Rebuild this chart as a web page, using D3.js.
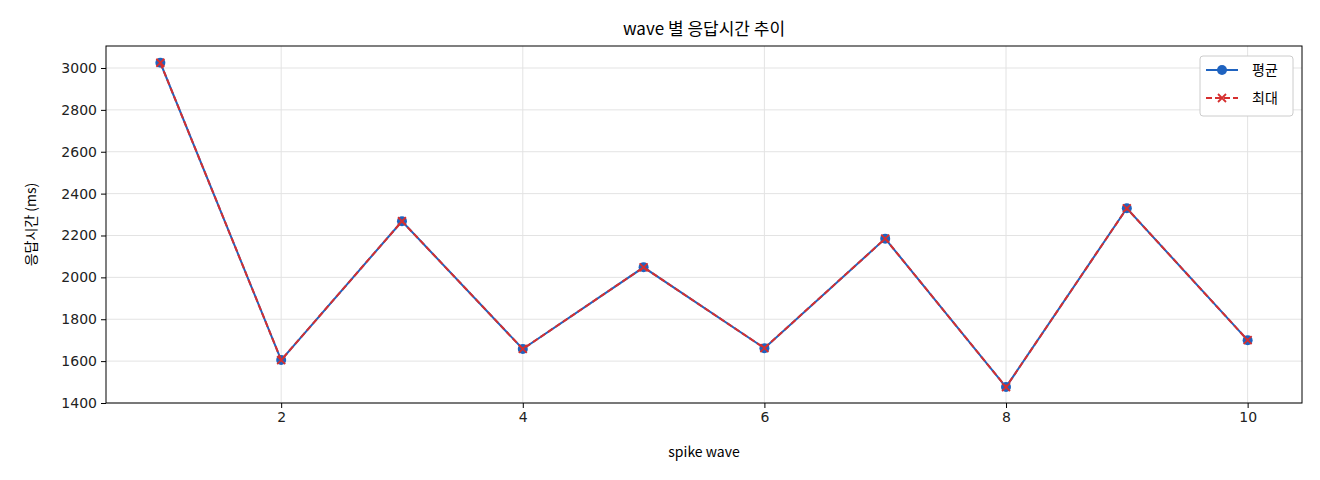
<!DOCTYPE html>
<html><head><meta charset="utf-8">
<script src="https://cdn.jsdelivr.net/npm/d3@7"></script>
<style>body{margin:0;background:#fff;font-family:"Noto Sans CJK KR","DejaVu Sans",sans-serif;}</style>
</head><body>
<script>
var waves = [1, 2, 3, 4, 5, 6, 7, 8, 9, 10];
var avgMs = [3025, 1605, 2268, 1658, 2048, 1662, 2185, 1476, 2330, 1700];
var maxMs = [3025, 1605, 2268, 1658, 2048, 1662, 2185, 1476, 2330, 1700];
var yTicks = [1400, 1600, 1800, 2000, 2200, 2400, 2600, 2800, 3000];
var xTicks = [2, 4, 6, 8, 10];

var width = 1320, height = 480;
var pLeft = 106, pRight = 1302, pTop = 46, pBottom = 403;

const svg = d3.select("body").append("svg")
    .attr("width", width).attr("height", height);

var x = d3.scaleLinear().domain([0.55, 10.45]).range([pLeft, pRight]);
var y = d3.scaleLinear().domain([1400, 3105]).range([pBottom, pTop]);

// grid
svg.append("g").selectAll("line").data(xTicks).join("line")
    .attr("x1", d => x(d)).attr("x2", d => x(d))
    .attr("y1", pTop).attr("y2", pBottom)
    .style("stroke", "#e3e3e3").style("stroke-width", 1);
svg.append("g").selectAll("line").data(yTicks).join("line")
    .attr("x1", pLeft).attr("x2", pRight)
    .attr("y1", d => y(d)).attr("y2", d => y(d))
    .style("stroke", "#e3e3e3").style("stroke-width", 1);

var xAxis = svg.append("g").attr("transform", `translate(0,${pBottom})`)
    .call(d3.axisBottom(x).tickValues(xTicks).tickSize(5).tickPadding(4));
var yAxis = svg.append("g").attr("transform", `translate(${pLeft},0)`)
    .call(d3.axisLeft(y).tickValues(yTicks).tickSize(5).tickPadding(4).tickFormat(d3.format("d")));
[xAxis, yAxis].forEach(a => {
    a.select(".domain").remove();
    a.selectAll("text").style("font-size", "14px").style("fill", "#222")
        .style("font-family", "'DejaVu Sans',sans-serif");
});

svg.append("rect").attr("x", pLeft).attr("y", pTop)
    .attr("width", pRight - pLeft).attr("height", pBottom - pTop)
    .style("fill", "none").style("stroke", "#000").style("stroke-width", 1);

var pts = waves.map((w, i) => ({w: w, avg: avgMs[i], max: maxMs[i]}));

svg.append("path").datum(pts)
    .attr("d", d3.line().x(d => x(d.w)).y(d => y(d.avg)))
    .style("fill", "none").style("stroke", "#1f63c0").style("stroke-width", 2);
svg.append("g").selectAll("circle").data(pts).join("circle")
    .attr("cx", d => x(d.w)).attr("cy", d => y(d.avg)).attr("r", 5)
    .attr("fill", "#1f63c0");

svg.append("path").datum(pts)
    .attr("d", d3.line().x(d => x(d.w)).y(d => y(d.max)))
    .style("fill", "none").style("stroke", "#d62f2f").style("stroke-width", 2)
    .style("stroke-dasharray", "6,3");
function cross(g, cx, cy, s) {
    g.append("path").attr("d", `M${cx-s},${cy-s}L${cx+s},${cy+s}M${cx-s},${cy+s}L${cx+s},${cy-s}`)
        .style("stroke", "#d62f2f").style("stroke-width", 1.8);
}
var cg = svg.append("g");
pts.forEach(d => cross(cg, x(d.w), y(d.max), 4));

// legend
var lg = svg.append("g").attr("transform", "translate(1200,56)");
lg.append("rect").attr("width", 93).attr("height", 60).attr("rx", 3)
    .style("fill", "#fff").style("stroke", "#ccc");
lg.append("line").attr("x1", 6).attr("x2", 38).attr("y1", 14).attr("y2", 14)
    .style("stroke", "#1f63c0").style("stroke-width", 2);
lg.append("circle").attr("cx", 22).attr("cy", 14).attr("r", 5).attr("fill", "#1f63c0");
lg.append("line").attr("x1", 6).attr("x2", 38).attr("y1", 42).attr("y2", 42)
    .style("stroke", "#d62f2f").style("stroke-width", 2).style("stroke-dasharray", "6,3");
cross(lg, 22, 42, 4);
lg.append("text").attr("x", 52).attr("y", 19).text("평균").style("font-size", "14px");
lg.append("text").attr("x", 52).attr("y", 47).text("최대").style("font-size", "14px");

svg.append("text").attr("x", (pLeft + pRight) / 2).attr("y", 35).attr("text-anchor", "middle")
    .text("wave 별 응답시간 추이").style("font-size", "17px");
svg.append("text").attr("x", (pLeft + pRight) / 2).attr("y", 457).attr("text-anchor", "middle")
    .text("spike wave").style("font-size", "14px");
svg.append("text").attr("transform", `translate(36,${(pTop + pBottom) / 2}) rotate(-90)`)
    .attr("text-anchor", "middle").text("응답시간 (ms)").style("font-size", "14px");
</script>
</body></html>
